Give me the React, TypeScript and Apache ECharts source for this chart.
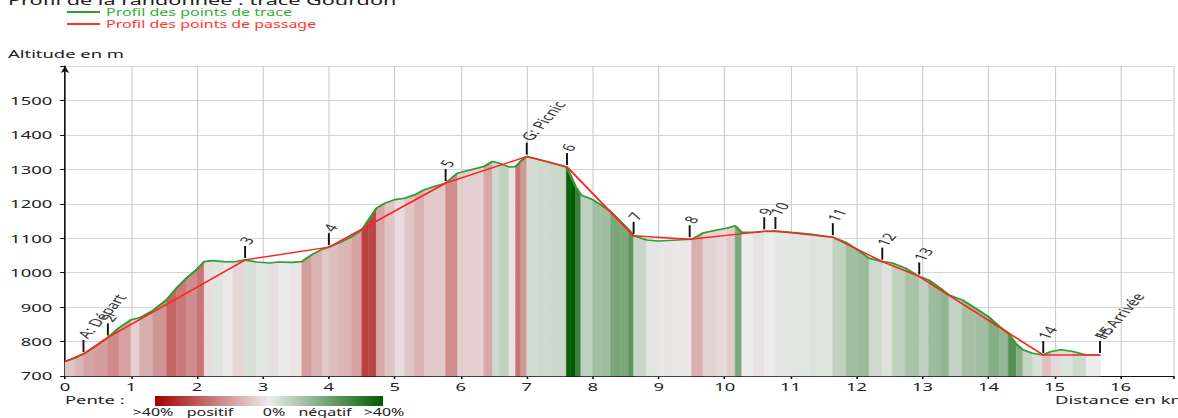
import React, { useEffect, useRef } from 'react';
import * as echarts from 'echarts';

// ---- data ----
const traceKm = [
  0.0, 0.15, 0.28, 0.43, 0.65, 0.82, 1.0, 1.13, 1.33, 1.54, 1.69, 1.84, 2.0, 2.11, 2.24, 2.4, 2.55, 2.72, 2.9,
  3.1, 3.24, 3.44, 3.59, 3.74, 3.9, 4.0, 4.15, 4.35, 4.5, 4.6, 4.72, 4.85, 5.0, 5.15, 5.3, 5.45, 5.6, 5.77,
  5.95, 6.05, 6.2, 6.35, 6.48, 6.58, 6.73, 6.83, 6.91, 7.0, 7.16, 7.36, 7.6, 7.66, 7.74, 7.82, 8.0, 8.12,
  8.27, 8.42, 8.55, 8.62, 8.82, 9.0, 9.28, 9.5, 9.67, 9.88, 10.03, 10.16, 10.26, 10.43, 10.6, 10.77, 11.0,
  11.29, 11.64, 11.84, 12.0, 12.19, 12.39, 12.54, 12.74, 12.95, 13.09, 13.27, 13.4, 13.6, 13.8, 14.0, 14.17,
  14.3, 14.42, 14.52, 14.67, 14.82, 14.95, 15.1, 15.28, 15.48, 15.7,
];
const traceAlt = [
  742, 752, 764, 782, 812, 840, 863, 869, 890, 921, 955, 984, 1010, 1032, 1035, 1032, 1031, 1037, 1031,
  1028, 1031, 1030, 1032, 1052, 1068, 1074, 1086, 1105, 1124, 1153, 1187, 1202, 1212, 1216, 1226, 1241, 1250, 1260,
  1289, 1294, 1301, 1308, 1323, 1318, 1307, 1308, 1324, 1337, 1330, 1320, 1307, 1284, 1250, 1226, 1212, 1197,
  1178, 1149, 1124, 1107, 1095, 1092, 1095, 1097, 1115, 1124, 1129, 1136, 1117, 1117, 1120, 1120, 1117,
  1112, 1103, 1088, 1068, 1042, 1032, 1028, 1013, 989, 979, 955, 935, 921, 897, 872, 843,
  824, 793, 776, 766, 761, 771, 776, 771, 761, 761,
];

const wpKm = [0.0, 0.28, 0.65, 2.73, 4.0, 5.77, 7.0, 7.61, 8.62, 9.47, 10.6, 10.77, 11.64, 12.39, 12.95, 14.83, 15.69];
const wpAlt = [742, 764, 812, 1037, 1074, 1260, 1337, 1307, 1107, 1097, 1120, 1121, 1103, 1032, 989, 761, 761];
const wpLabel = ['', 'A: Départ', '2', '3', '4', '5', 'G: Picnic', '6', '7', '8', '9', '10', '11', '12', '13', '14', 'H: Arrivée'];
const wpAlias = ['', '', '', '', '', '', '', '', '', '', '', '', '', '', '', '', '15'];

const yTicks = [700, 800, 900, 1000, 1100, 1200, 1300, 1400, 1500];
const xTicks = [0, 1, 2, 3, 4, 5, 6, 7, 8, 9, 10, 11, 12, 13, 14, 15, 16];

const penteLabels = ['>40%', 'positif', '0%', 'négatif', '>40%'];

// ---- layout ----
const OUT_W = 1178;
const H = 418;
const W = 736;
const S = OUT_W / W; // horizontal stretch of the original picture
const FONT = '"Noto Sans", sans-serif';

const BASE = [236, 236, 236];
const POS = [165, 0, 0];
const NEG = [0, 92, 0];

function slopeColor(slopePct: number): string {
  const t = Math.min(Math.abs(slopePct) / 40, 1);
  const end = slopePct >= 0 ? POS : NEG;
  const c = BASE.map((b, i) => Math.round(b + (end[i] - b) * t));
  return `rgb(${c[0]},${c[1]},${c[2]})`;
}

export default function App() {
  const ref = useRef<HTMLDivElement>(null);

  useEffect(() => {
    document.body.style.margin = '0';
    const chart = echarts.init(ref.current!, null, { renderer: 'svg' });

    const segments: number[][] = [];
    for (let i = 0; i < traceKm.length - 1; i++) {
      const dk = traceKm[i + 1] - traceKm[i];
      const slope = (traceAlt[i + 1] - traceAlt[i]) / dk / 10;
      segments.push([traceKm[i], traceAlt[i], traceKm[i + 1], traceAlt[i + 1], slope]);
    }

    const markerData: number[][] = [];
    wpKm.forEach((k, i) => {
      if (wpLabel[i]) markerData.push([k, wpAlt[i], i]);
    });

    const px = (x: number) => x / S;
    const yMin = yTicks[0];

    const option: any = {
      animation: false,
      textStyle: { fontFamily: FONT },
      grid: { left: px(65), right: 0, top: 66, bottom: 42, containLabel: false },
      xAxis: {
        type: 'value',
        min: xTicks[0],
        max: 16.8,
        interval: 1,
        axisLine: { show: true, lineStyle: { color: '#111', width: 1 } },
        axisTick: { show: true, length: 3, lineStyle: { color: '#111' } },
        axisLabel: {
          color: '#222',
          fontSize: 11.5,
          fontFamily: FONT,
          margin: 4,
          formatter: (v: number) => (xTicks.includes(v) ? String(v) : ''),
        },
        splitLine: { show: true, lineStyle: { color: '#cdcdcd', width: 0.7 } },
      },
      yAxis: {
        type: 'value',
        min: yMin,
        max: 1600,
        interval: 100,
        axisLine: {
          show: true,
          lineStyle: { color: '#111', width: 1 },
          symbol: ['none', 'arrow'],
          symbolSize: [4, 7],
        },
        axisTick: { show: true, length: 3, lineStyle: { color: '#111' } },
        axisLabel: {
          color: '#222',
          fontSize: 11.5,
          fontFamily: FONT,
          margin: 8,
          formatter: (v: number) => (yTicks.includes(v) ? String(v) : ''),
        },
        splitLine: { show: true, lineStyle: { color: '#d6d6d6', width: 1 } },
      },
      series: [
        {
          type: 'custom',
          z: 1,
          silent: true,
          data: segments,
          encode: { x: [0, 2], y: [1, 3] },
          renderItem: (params: any, api: any) => {
            const x0 = api.value(0);
            const y0 = api.value(1);
            const x1 = api.value(2);
            const y1 = api.value(3);
            const s = api.value(4);
            const p0 = api.coord([x0, y0]);
            const p1 = api.coord([x1, y1]);
            const b0 = api.coord([x0, yMin]);
            const b1 = api.coord([x1, yMin]);
            const col = slopeColor(s);
            return {
              type: 'polygon',
              shape: { points: [p0, p1, b1, b0] },
              style: { fill: col, stroke: col, lineWidth: 0.4 },
            };
          },
        },
        {
          name: 'Profil des points de trace',
          type: 'line',
          z: 3,
          data: traceKm.map((k, i) => [k, traceAlt[i]]),
          showSymbol: false,
          symbol: 'none',
          lineStyle: { color: '#2e9e2e', width: 1.6 },
        },
        {
          name: 'Profil des points de passage',
          type: 'line',
          z: 4,
          data: wpKm.map((k, i) => [k, wpAlt[i]]),
          showSymbol: false,
          symbol: 'none',
          lineStyle: { color: '#ff2323', width: 1.4 },
        },
        {
          type: 'custom',
          z: 5,
          silent: true,
          data: markerData,
          encode: { x: 0, y: 1 },
          renderItem: (params: any, api: any) => {
            const idx = api.value(2);
            const p = api.coord([api.value(0), api.value(1)]);
            const top = p[1] - 14;
            const bottom = p[1] - 2;
            const children: any[] = [
              {
                type: 'line',
                shape: { x1: p[0], y1: bottom, x2: p[0], y2: top },
                style: { stroke: '#111', lineWidth: 1.2 },
              },
            ];
            const labels = [wpLabel[idx], wpAlias[idx]].filter((t) => !!t);
            labels.forEach((t) => {
              children.push({
                type: 'text',
                x: p[0] - 1,
                y: top - 3,
                rotation: Math.PI / 3,
                style: {
                  text: t,
                  fill: '#333',
                  font: `11px ${FONT}`,
                  align: 'left',
                  verticalAlign: 'middle',
                },
              });
            });
            return { type: 'group', children };
          },
        },
      ],
      graphic: [
        {
          type: 'text',
          x: px(8),
          y: 0,
          style: {
            text: 'Profil de la randonnée : tracé Gourdon',
            fill: '#222',
            font: `13.5px ${FONT}`,
            align: 'left',
            verticalAlign: 'middle',
          },
        },
        {
          type: 'line',
          shape: { x1: px(67), y1: 12, x2: px(100), y2: 12 },
          style: { stroke: '#2e9e2e', lineWidth: 2 },
        },
        {
          type: 'text',
          x: px(106),
          y: 12,
          style: {
            text: 'Profil des points de trace',
            fill: '#3aac3a',
            font: `10px ${FONT}`,
            align: 'left',
            verticalAlign: 'middle',
          },
        },
        {
          type: 'line',
          shape: { x1: px(67), y1: 24, x2: px(100), y2: 24 },
          style: { stroke: '#ff3030', lineWidth: 2 },
        },
        {
          type: 'text',
          x: px(106),
          y: 24,
          style: {
            text: 'Profil des points de passage',
            fill: '#ff3535',
            font: `10px ${FONT}`,
            align: 'left',
            verticalAlign: 'middle',
          },
        },
        {
          type: 'text',
          x: px(8),
          y: 54,
          style: {
            text: 'Altitude en m',
            fill: '#222',
            font: `11.5px ${FONT}`,
            align: 'left',
            verticalAlign: 'middle',
          },
        },
        {
          type: 'text',
          x: px(1055),
          y: 400,
          style: {
            text: 'Distance en km',
            fill: '#222',
            font: `11.5px ${FONT}`,
            align: 'left',
            verticalAlign: 'middle',
          },
        },
        {
          type: 'text',
          x: px(65),
          y: 400,
          style: {
            text: 'Pente :',
            fill: '#222',
            font: `11.5px ${FONT}`,
            align: 'left',
            verticalAlign: 'middle',
          },
        },
        {
          type: 'rect',
          shape: { x: px(155), y: 396, width: px(383) - px(155), height: 10 },
          style: {
            fill: {
              type: 'linear',
              x: 0,
              y: 0,
              x2: 1,
              y2: 0,
              colorStops: [
                { offset: 0, color: 'rgb(165,0,0)' },
                { offset: 0.5, color: 'rgb(236,236,236)' },
                { offset: 1, color: 'rgb(0,92,0)' },
              ],
            },
          },
        },
        ...penteLabels.map((t, i) => ({
          type: 'text',
          x: px([153, 210, 274, 325, 384][i]),
          y: 412,
          style: {
            text: t,
            fill: '#222',
            font: `10px ${FONT}`,
            align: 'center',
            verticalAlign: 'middle',
          },
        })),
      ],
    };

    chart.setOption(option);
    return () => chart.dispose();
  }, []);

  return (
    <div style={{ width: OUT_W, height: H, overflow: 'hidden', position: 'relative' }}>
      <div
        ref={ref}
        style={{ width: W, height: H, transform: `scaleX(${S})`, transformOrigin: '0 0' }}
      />
    </div>
  );
}
